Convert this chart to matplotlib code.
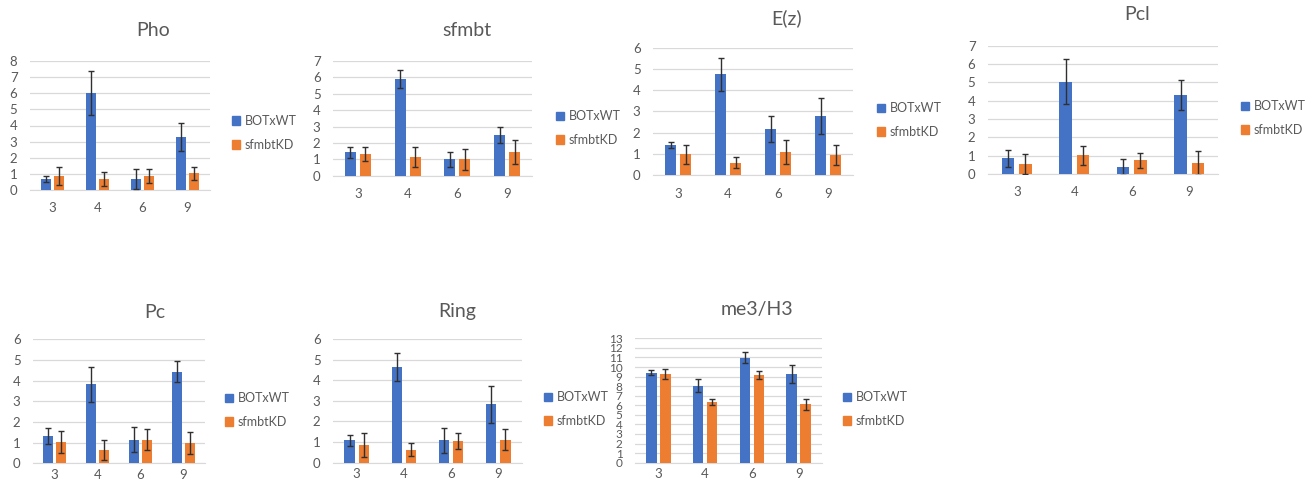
import matplotlib
matplotlib.use("Agg")
import matplotlib.pyplot as plt
from matplotlib.patches import Patch
import numpy as np

plt.rcParams['font.family'] = ['Lato', 'DejaVu Sans']

categories = ["3", "4", "6", "9"]
series_names = ["BOTxWT", "sfmbtKD"]

pho_bot = [0.68, 6.03, 0.68, 3.26]
pho_bot_err = [0.2, 1.35, 0.6, 0.87]
pho_kd = [0.87, 0.68, 0.87, 1.03]
pho_kd_err = [0.58, 0.44, 0.41, 0.42]

sfmbt_bot = [1.43, 5.9, 1.0, 2.48]
sfmbt_bot_err = [0.34, 0.56, 0.47, 0.49]
sfmbt_kd = [1.32, 1.16, 1.0, 1.43]
sfmbt_kd_err = [0.45, 0.61, 0.63, 0.73]

ez_bot = [1.43, 4.74, 2.17, 2.79]
ez_bot_err = [0.14, 0.77, 0.61, 0.85]
ez_kd = [0.97, 0.58, 1.08, 0.94]
ez_kd_err = [0.44, 0.25, 0.55, 0.46]

pcl_bot = [0.85, 5.04, 0.4, 4.31]
pcl_bot_err = [0.46, 1.23, 0.44, 0.82]
pcl_kd = [0.55, 1.02, 0.75, 0.6]
pcl_kd_err = [0.56, 0.51, 0.41, 0.64]

pc_bot = [1.34, 3.82, 1.15, 4.44]
pc_bot_err = [0.39, 0.83, 0.62, 0.53]
pc_kd = [1.05, 0.65, 1.15, 0.98]
pc_kd_err = [0.53, 0.5, 0.5, 0.55]

ring_bot = [1.08, 4.64, 1.08, 2.83]
ring_bot_err = [0.26, 0.67, 0.62, 0.89]
ring_kd = [0.86, 0.63, 1.07, 1.12]
ring_kd_err = [0.6, 0.31, 0.39, 0.5]

me3_bot = [9.41, 8.05, 10.98, 9.27]
me3_bot_err = [0.28, 0.7, 0.59, 0.94]
me3_kd = [9.27, 6.34, 9.16, 6.1]
me3_kd_err = [0.56, 0.35, 0.46, 0.56]

W, H = 1309, 484
BLUE = "#4472C4"
ORANGE = "#ED7D31"
GRID = "#D9D9D9"
TEXT = "#595959"

# (title, data, ymax, axes box px (left, right, top, bottom), title xy px, legend xy px)
panels = [
    ("Pho", (pho_bot, pho_bot_err, pho_kd, pho_kd_err), 8,
     (30, 210, 61, 190), (153, 30), (232, 133)),
    ("sfmbt", (sfmbt_bot, sfmbt_bot_err, sfmbt_kd, sfmbt_kd_err), 7,
     (333, 532, 61, 175.7), (467, 31), (556, 128)),
    ("E(z)", (ez_bot, ez_bot_err, ez_kd, ez_kd_err), 6,
     (653, 853, 47.7, 175), (787, 18), (877, 120)),
    ("Pcl", (pcl_bot, pcl_bot_err, pcl_kd, pcl_kd_err), 7,
     (988, 1218, 45.7, 174), (1137, 15), (1241, 118)),
    ("Pc", (pc_bot, pc_bot_err, pc_kd, pc_kd_err), 6,
     (33, 205, 339.3, 463.3), (155, 313), (225, 410)),
    ("Ring", (ring_bot, ring_bot_err, ring_kd, ring_kd_err), 6,
     (333, 522, 339, 462.7), (457, 312), (544, 409)),
    ("me3/H3", (me3_bot, me3_bot_err, me3_kd, me3_kd_err), 13,
     (635, 822, 338.3, 462.7), (757, 310), (843, 409)),
]

fig = plt.figure(figsize=(W / 100, H / 100), dpi=100)
fig.patch.set_facecolor("white")

x = np.arange(len(categories))
bw = 0.22
off = 0.15

for title, (bot, bot_e, kd, kd_e), ymax, (l, r, t, b), (tx, ty), (lx, ly) in panels:
    ax = fig.add_axes([l / W, 1 - b / H, (r - l) / W, (b - t) / H])
    ax.set_xlim(-0.5, len(categories) - 0.5)
    ax.set_ylim(0, ymax)
    ekw = dict(ecolor="#303030", elinewidth=1, capsize=2.5, capthick=1)
    ax.bar(x - off, bot, bw, color=BLUE, yerr=bot_e, error_kw=ekw, zorder=3)
    ax.bar(x + off, kd, bw, color=ORANGE, yerr=kd_e, error_kw=ekw, zorder=3)
    ax.set_yticks(np.arange(0, ymax + 1, 1))
    ax.grid(axis="y", color=GRID, linewidth=0.9, zorder=0)
    ax.set_axisbelow(True)
    for s in ("top", "right", "left"):
        ax.spines[s].set_visible(False)
    ax.spines["bottom"].set_color(GRID)
    ax.set_xticks(x)
    ax.set_xticklabels(categories)
    fs_y = 8.5 if ymax > 10 else 9.5
    xpad = 9 if b < 300 else 4
    ax.tick_params(axis="y", length=0, pad=9, labelsize=fs_y, labelcolor=TEXT)
    ax.tick_params(axis="x", length=0, pad=xpad, labelsize=9.5, labelcolor=TEXT)
    fig.text(tx / W, 1 - ty / H, title, ha="center", va="center",
             fontsize=14, color=TEXT)
    handles = [Patch(color=BLUE), Patch(color=ORANGE)]
    ax.legend(handles, series_names, loc="center left",
              bbox_to_anchor=(lx / W, 1 - ly / H), bbox_transform=fig.transFigure,
              frameon=False, fontsize=9, labelcolor=TEXT, handlelength=0.65,
              handleheight=0.65, handletextpad=0.35, labelspacing=0.95,
              borderpad=0, borderaxespad=0)

fig.savefig("out.png", dpi=100, facecolor="white")
